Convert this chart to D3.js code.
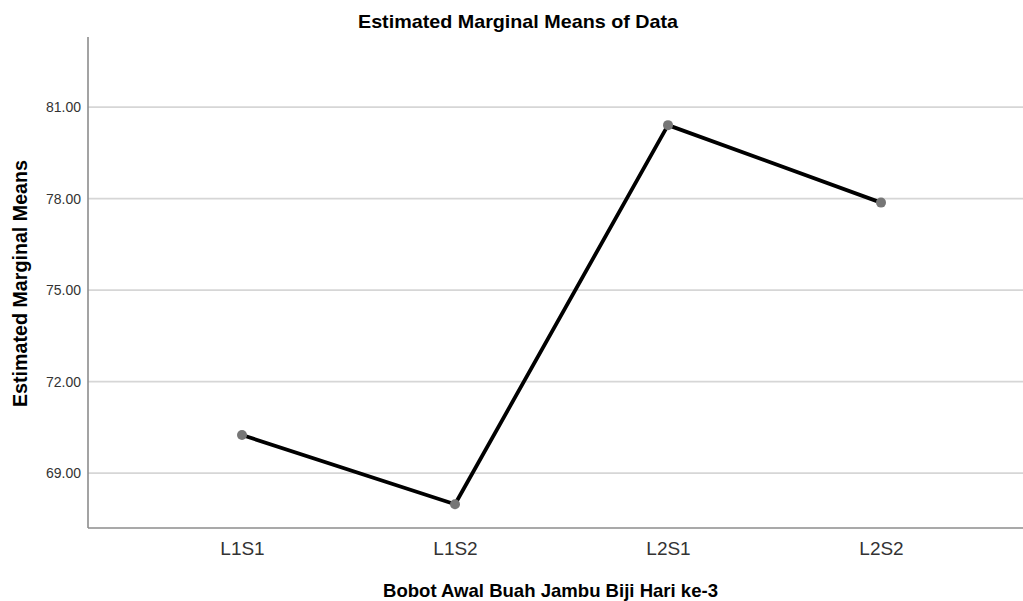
<!DOCTYPE html>
<html>
<head>
<meta charset="utf-8">
<script src="https://cdn.jsdelivr.net/npm/d3@7"></script>
<style>
  html, body { margin: 0; padding: 0; background: #fff; }
  svg { display: block; font-family: "Liberation Sans", Arial, sans-serif; }
</style>
</head>
<body>
<svg id="chart" width="1023" height="601"></svg>
<script>
const categories = ["L1S1", "L1S2", "L2S1", "L2S2"];
const means = [70.25, 67.98, 80.41, 77.87];
const yTicks = [69, 72, 75, 78, 81];
const chartTitle = "Estimated Marginal Means of Data";
const xTitle = "Bobot Awal Buah Jambu Biji Hari ke-3";
const yTitle = "Estimated Marginal Means";

(function () {
const svg = d3.select("#chart");
const pL = 88, pR = 1023, pT = 37, pB = 528;

const x = d3.scalePoint().domain(categories).range([242, 881]);
const y = d3.scaleLinear().domain([67.2, 83.3]).range([pB, pT]);

// gridlines
svg.append("g").selectAll("line").data(yTicks).join("line")
  .attr("x1", pL).attr("x2", pR)
  .attr("y1", d => y(d)).attr("y2", d => y(d))
  .attr("stroke", "#d6d6d6").attr("stroke-width", 1.6);

// y axis
const yAxis = svg.append("g").attr("transform", `translate(${pL},0)`)
  .call(d3.axisLeft(y).tickValues(yTicks).tickFormat(d3.format(".2f")).tickSize(0).tickPadding(7));
yAxis.select(".domain").remove();
yAxis.selectAll("text").attr("font-size", 14).attr("fill", "#333")
  .attr("font-family", "Liberation Sans, Arial, sans-serif");
svg.append("line").attr("x1", pL).attr("x2", pL).attr("y1", pT).attr("y2", pB)
  .attr("stroke", "#8c8c8c").attr("stroke-width", 1.6);

// x axis
const xAxis = svg.append("g").attr("transform", `translate(0,${pB})`)
  .call(d3.axisBottom(x).tickSize(0).tickPadding(14));
xAxis.select(".domain").remove();
xAxis.selectAll("text").attr("font-size", 19).attr("fill", "#333")
  .attr("font-family", "Liberation Sans, Arial, sans-serif");
svg.append("line").attr("x1", pL).attr("x2", pR).attr("y1", pB).attr("y2", pB)
  .attr("stroke", "#8c8c8c").attr("stroke-width", 1.6);

// line
const data = categories.map((c, i) => ({c, v: means[i]}));
svg.append("path").datum(data)
  .attr("fill", "none").attr("stroke", "#000").attr("stroke-width", 3.8)
  .attr("stroke-linejoin", "round")
  .attr("d", d3.line().x(d => x(d.c)).y(d => y(d.v)));

svg.append("g").selectAll("circle").data(data).join("circle")
  .attr("cx", d => x(d.c)).attr("cy", d => y(d.v)).attr("r", 5)
  .attr("fill", "#767676");

// titles
svg.append("text").attr("x", 518).attr("y", 27.5).attr("text-anchor", "middle")
  .attr("font-size", 18.5).attr("font-weight", "bold").attr("fill", "#000")
  .attr("textLength", 320).attr("lengthAdjust", "spacingAndGlyphs")
  .text(chartTitle);

svg.append("text").attr("x", 550.5).attr("y", 596.5).attr("text-anchor", "middle")
  .attr("font-size", 18.5).attr("font-weight", "bold").attr("fill", "#000")
  .attr("textLength", 335).attr("lengthAdjust", "spacingAndGlyphs")
  .text(xTitle);

svg.append("text").attr("transform", "translate(26.5,283.5) rotate(-90)")
  .attr("text-anchor", "middle")
  .attr("font-size", 21).attr("font-weight", "bold").attr("fill", "#000")
  .attr("textLength", 247).attr("lengthAdjust", "spacingAndGlyphs")
  .text(yTitle);
})();
</script>
</body>
</html>
